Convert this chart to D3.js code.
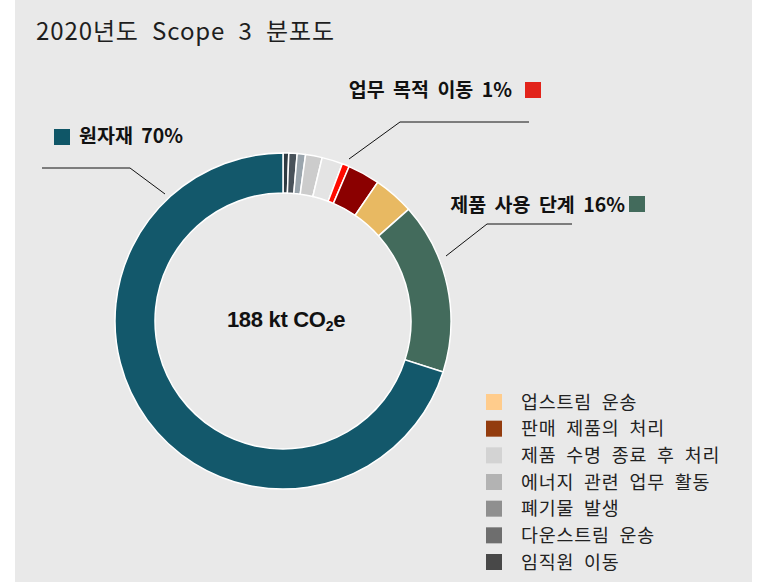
<!DOCTYPE html>
<html>
<head>
<meta charset="utf-8">
<script src="https://cdn.jsdelivr.net/npm/d3@7"></script>
<style>
  html, body { margin: 0; padding: 0; background: #fff; }
  svg { display: block; }
  .ko { font-family: "Noto Sans CJK KR", "Noto Sans", sans-serif; }
</style>
</head>
<body>
<svg id="chart" width="757" height="582"></svg>
<script>
// Scope 3 categories, clockwise from 12 o'clock
const categories = [
  "임직원 이동", "다운스트림 운송", "폐기물 발생", "에너지 관련 업무 활동",
  "제품 수명 종료 후 처리", "업무 목적 이동", "판매 제품의 처리",
  "업스트림 운송", "제품 사용 단계", "원자재"
];
const shares = [0.55, 0.8, 0.8, 1.6, 2.0, 0.7, 3.1, 3.9, 16.5, 70.2];
const sliceColors = [
  "#2e3b42", "#48525a", "#9aa5ad", "#cccccc", "#e4e4e4",
  "#ff0a00", "#8b0000", "#e8b962", "#436b5c", "#13586b"
];

// legend on the lower right
const legendNames = [
  "업스트림 운송", "판매 제품의 처리", "제품 수명 종료 후 처리",
  "에너지 관련 업무 활동", "폐기물 발생", "다운스트림 운송", "임직원 이동"
];
const legendColors = ["#ffcc8c", "#933c0e", "#d3d3d3", "#b3b3b3", "#8f8f8f", "#6e6e6e", "#484848"];

// callout labels
const calloutText = ["원자재 70%", "업무 목적 이동 1%", "제품 사용 단계 16%"];
const calloutColors = ["#0f5667", "#e2231a", "#436b5c"];

const totalLabel = "188 kt CO";

const svg = d3.select("#chart");
const cx = 283, cy = 321;
const outerR = 168, innerR = 128;

// panel background
svg.append("rect")
  .attr("x", 15).attr("y", 0)
  .attr("width", 737).attr("height", 582)
  .attr("fill", "#e9e9e9");

svg.append("text")
  .attr("class", "ko")
  .attr("x", 36).attr("y", 40)
  .attr("font-size", 24)
  .attr("letter-spacing", 0.9)
  .attr("word-spacing", 7)
  .attr("fill", "#1e1e1e")
  .text("2020년도 Scope 3 분포도");

const pie = d3.pie().sort(null).value(d => d);
const arc = d3.arc().innerRadius(innerR).outerRadius(outerR);

const g = svg.append("g").attr("transform", `translate(${cx},${cy})`);

g.selectAll("path.slice")
  .data(pie(shares))
  .enter()
  .append("path")
  .attr("class", "slice")
  .attr("d", arc)
  .attr("fill", (d, i) => sliceColors[i])
  .attr("stroke", "#fff")
  .attr("stroke-width", 1.5);

// center total
const total = g.append("text")
  .attr("x", 3).attr("y", 6)
  .attr("text-anchor", "middle")
  .attr("font-family", "'Liberation Sans', Arial, sans-serif")
  .attr("font-weight", "bold")
  .attr("font-size", 22)
  .attr("fill", "#111")
  .attr("letter-spacing", -0.3);
total.append("tspan").text(totalLabel);
total.append("tspan").attr("font-size", 14).attr("dy", 4).text("2");
total.append("tspan").attr("dy", -4).text("e");

// callouts: leader lines (elbow + end at ring), labels and swatches
const leaders = [
  [[42, 168], [130, 168], [165, 194]],
  [[529, 122], [400, 122], [349, 159]],
  [[572, 224], [487, 224], [446, 256]]
];
const line = d3.line();
svg.selectAll("path.leader")
  .data(leaders)
  .enter()
  .append("path")
  .attr("class", "leader")
  .attr("d", line)
  .attr("fill", "none")
  .attr("stroke", "#111")
  .attr("stroke-width", 1);

const callouts = [
  { x: 79, y: 143, anchor: "start", sx: 54, sy: 129 },
  { x: 512, y: 97, anchor: "end", sx: 525, sy: 82 },
  { x: 625, y: 212, anchor: "end", sx: 629, sy: 196 }
];
callouts.forEach(function (c, i) {
  svg.append("rect")
    .attr("x", c.sx).attr("y", c.sy)
    .attr("width", 16).attr("height", 16)
    .attr("fill", calloutColors[i]);
  svg.append("text")
    .attr("class", "ko")
    .attr("x", c.x).attr("y", c.y)
    .attr("text-anchor", c.anchor)
    .attr("font-size", 19.5)
    .attr("font-weight", "bold")
    .attr("word-spacing", 4)
    .attr("fill", "#111")
    .text(calloutText[i]);
});

// legend
const ly = d3.scalePoint().domain(legendNames).range([402, 562]);
const legend = svg.selectAll("g.legend")
  .data(legendNames)
  .enter()
  .append("g")
  .attr("class", "legend")
  .attr("transform", d => `translate(486,${ly(d)})`);

legend.append("rect")
  .attr("x", 0).attr("y", -8)
  .attr("width", 16).attr("height", 16)
  .attr("fill", (d, i) => legendColors[i]);

legend.append("text")
  .attr("class", "ko")
  .attr("x", 35).attr("y", 6.5)
  .attr("font-size", 18.4)
  .attr("letter-spacing", 0.8)
  .attr("word-spacing", 5)
  .attr("fill", "#222")
  .text(d => d);
</script>
</body>
</html>
